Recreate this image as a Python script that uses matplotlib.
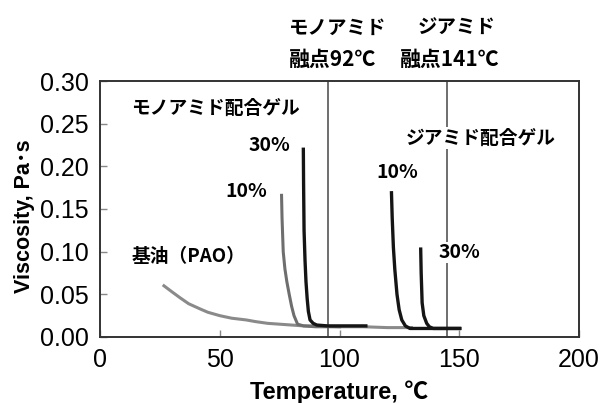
import matplotlib.pyplot as plt

jp = ['Noto Sans CJK JP', 'DejaVu Sans']
num = ['Liberation Sans', 'DejaVu Sans']
lab = ['Liberation Sans', 'Noto Sans CJK JP', 'DejaVu Sans']

# base oil (PAO)
pao_t = [26.7, 30, 33.4, 37, 41.7, 45, 50, 55, 61, 65, 70, 75, 80, 85, 90, 100, 110, 120, 130]
pao_v = [0.060, 0.053, 0.046, 0.039, 0.033, 0.029, 0.025, 0.022, 0.020, 0.018, 0.016, 0.015, 0.014, 0.013, 0.013, 0.012, 0.012, 0.011, 0.011]

# monoamide gel
mono10_t = [75.8, 76.0, 76.5, 77.2, 78.0, 79.0, 80.0, 81.0, 82.5, 85, 90, 100]
mono10_v = [0.166, 0.140, 0.100, 0.080, 0.065, 0.050, 0.036, 0.025, 0.015, 0.013, 0.012, 0.012]
mono30_t = [84.9, 85.0, 85.2, 85.6, 86.0, 86.5, 87.0, 87.7, 89.0, 90.5, 95, 100, 111]
mono30_v = [0.220, 0.180, 0.125, 0.090, 0.065, 0.045, 0.030, 0.020, 0.016, 0.014, 0.013, 0.013, 0.013]

# diamide gel
di10_t = [121.7, 122.0, 122.5, 123.1, 124.0, 124.9, 126.0, 127.5, 129.4, 135, 145, 150]
di10_v = [0.169, 0.140, 0.105, 0.079, 0.050, 0.032, 0.020, 0.013, 0.010, 0.010, 0.010, 0.010]
di30_t = [133.9, 134.1, 134.5, 135.2, 136.4, 137.5, 139.1, 145, 150.3]
di30_v = [0.103, 0.075, 0.040, 0.025, 0.016, 0.012, 0.010, 0.010, 0.010]

# melting point lines (as drawn)
mp_lines = [95.0, 144.7]

xticks = [0, 50, 100, 150, 200]
yticks = [0.00, 0.05, 0.10, 0.15, 0.20, 0.25, 0.30]

fig = plt.figure(figsize=(6.01, 4.03), dpi=100)
ax = fig.add_axes([0.1664, 0.1638, 0.7970, 0.6352])

for x in mp_lines:
    ax.axvline(x, color='#555555', lw=1.2, zorder=1)

ax.plot(pao_t, pao_v, color='#8a8a8a', lw=2.2, zorder=2)
ax.plot(mono10_t, mono10_v, color='#6e6e6e', lw=2.2, zorder=3)
ax.plot(mono30_t, mono30_v, color='#151515', lw=2.4, zorder=4)
ax.plot(di10_t, di10_v, color='#151515', lw=2.4, zorder=4)
ax.plot(di30_t, di30_v, color='#151515', lw=2.4, zorder=4)

ax.set_xlim(0, 200)
ax.set_ylim(0, 0.30)
ax.set_xticks(xticks)
ax.set_yticks(yticks)
ax.set_xticklabels([str(t) for t in xticks], family=num, fontsize=18)
ax.set_yticklabels(['%.2f' % t for t in yticks], family=num, fontsize=18)
ax.tick_params(direction='in', length=5, width=1, color='#888888', pad=8)
for s in ax.spines.values():
    s.set_color('#333333')
    s.set_linewidth(1.4)

ax.set_ylabel('Viscosity, Pa･s', family=lab, fontsize=15.5, fontweight='bold', labelpad=8)
ax.set_xlabel('Temperature, ℃', family=lab, fontsize=17, fontweight='bold', labelpad=6)
ax.yaxis.set_label_coords(-0.135, 0.47)

box = dict(facecolor='white', edgecolor='none', pad=1)
ax.text(13, 0.268, 'モノアミド配合ゲル', family=jp, fontsize=13.5, fontweight='bold', va='center')
ax.text(62, 0.224, '30%', family=jp, fontsize=14, fontweight='bold', va='center')
ax.text(52.5, 0.171, '10%', family=jp, fontsize=14, fontweight='bold', va='center')
ax.text(13, 0.094, '基油（PAO）', family=jp, fontsize=13.5, fontweight='bold', va='center')
ax.text(127.5, 0.233, 'ジアミド配合ゲル', family=jp, fontsize=13.5, fontweight='bold', va='center', bbox=box)
ax.text(115.5, 0.193, '10%', family=jp, fontsize=14, fontweight='bold', va='center')
ax.text(141.5, 0.099, '30%', family=jp, fontsize=14, fontweight='bold', va='center', bbox=box)

ax.text(79, 0.362, 'モノアミド', family=jp, fontsize=14, fontweight='bold', va='center')
ax.text(79, 0.325, '融点92℃', family=jp, fontsize=15, fontweight='bold', va='center')
ax.text(132.5, 0.362, 'ジアミド', family=jp, fontsize=14, fontweight='bold', va='center')
ax.text(125, 0.325, '融点141℃', family=jp, fontsize=15, fontweight='bold', va='center')
for t in ax.texts:
    t.set_clip_on(False)

fig.savefig('out.png', dpi=100)
